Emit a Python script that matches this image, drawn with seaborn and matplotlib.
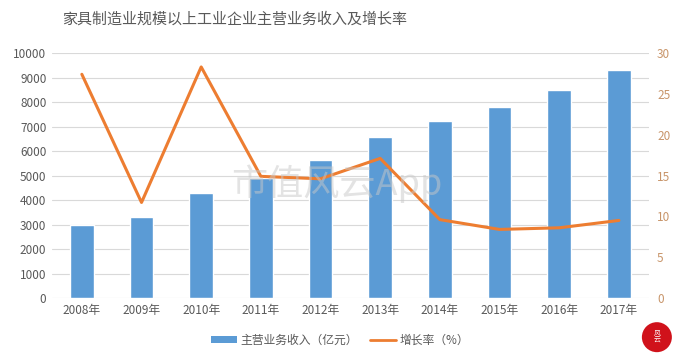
import numpy as np
import pandas as pd
import seaborn as sns
import matplotlib.pyplot as plt
from matplotlib.patches import Patch, Ellipse
from matplotlib.lines import Line2D

# datos del grafico
years = ['2008年', '2009年', '2010年', '2011年', '2012年',
         '2013年', '2014年', '2015年', '2016年', '2017年']
revenue = [2980, 3320, 4300, 4910, 5630, 6570, 7220, 7800, 8490, 9300]
growth = [27.4, 11.7, 28.3, 14.9, 14.6, 17.1, 9.6, 8.4, 8.6, 9.5]

bar_color = '#5B9BD5'
line_color = '#ED7D31'
grey = '#595959'

sns.set_theme(style='white')
plt.rcParams['font.family'] = ['Noto Sans CJK SC', 'DejaVu Sans']

df = pd.DataFrame({'year': years, 'revenue': revenue, 'growth': growth})
df['pos'] = np.arange(len(df))

fig = plt.figure(figsize=(6.8, 3.61), dpi=100)
ax = fig.add_axes([0.0765, 0.1745, 0.8775, 0.6785])

sns.barplot(data=df, x='year', y='revenue', color=bar_color, width=0.4,
            saturation=1, ax=ax, zorder=2)
ax.set_ylim(0, 10000)
ax.set_yticks(range(0, 10001, 1000))
ax.set_xlim(-0.5, 9.5)
ax.grid(axis='y', color='#D9D9D9', linewidth=0.8, zorder=0)
ax.set_axisbelow(True)
ax.set_xlabel('')
ax.set_ylabel('')
ax.tick_params(axis='both', length=0, labelsize=8.5, colors=grey, pad=4)
for s in ax.spines.values():
    s.set_visible(False)

ax2 = ax.twinx()
sns.lineplot(data=df, x='pos', y='growth', color=line_color, linewidth=2.2,
             ax=ax2, zorder=3)
ax2.set_ylim(0, 30)
ax2.set_yticks(range(0, 31, 5))
ax2.set_xlim(-0.5, 9.5)
ax2.set_ylabel('')
ax2.tick_params(axis='y', length=0, labelsize=8.5, colors='#C8956A', pad=6)
for s in ax2.spines.values():
    s.set_visible(False)

# titulo
fig.text(0.345, 0.945, '家具制造业规模以上工业企业主营业务收入及增长率',
         ha='center', va='center', fontsize=10.8, color=grey)

# marca de agua
fig.text(0.495, 0.49, '市值风云App', ha='center', va='center', fontsize=26,
         color='#C8C8C8', alpha=0.5, zorder=10)

handles = [Patch(facecolor=bar_color, edgecolor='none'),
           Line2D([0], [0], color=line_color, linewidth=2)]
labels = ['主营业务收入（亿元）', '增长率（%）']
fig.legend(handles, labels, loc='center', bbox_to_anchor=(0.5, 0.058), ncol=2,
           frameon=False, fontsize=8.5, labelcolor=grey, handlelength=2.2,
           handleheight=0.6, columnspacing=1.0, handletextpad=0.3)

# sello rojo
fig.patches.append(Ellipse((0.966, 0.066), 30 / 680, 30 / 361, transform=fig.transFigure,
                           facecolor='#D0121B', edgecolor='none'))
fig.text(0.966, 0.066, '风\n云', ha='center', va='center', fontsize=5,
         color='white', linespacing=0.9)

fig.savefig('out.png', dpi=100)
